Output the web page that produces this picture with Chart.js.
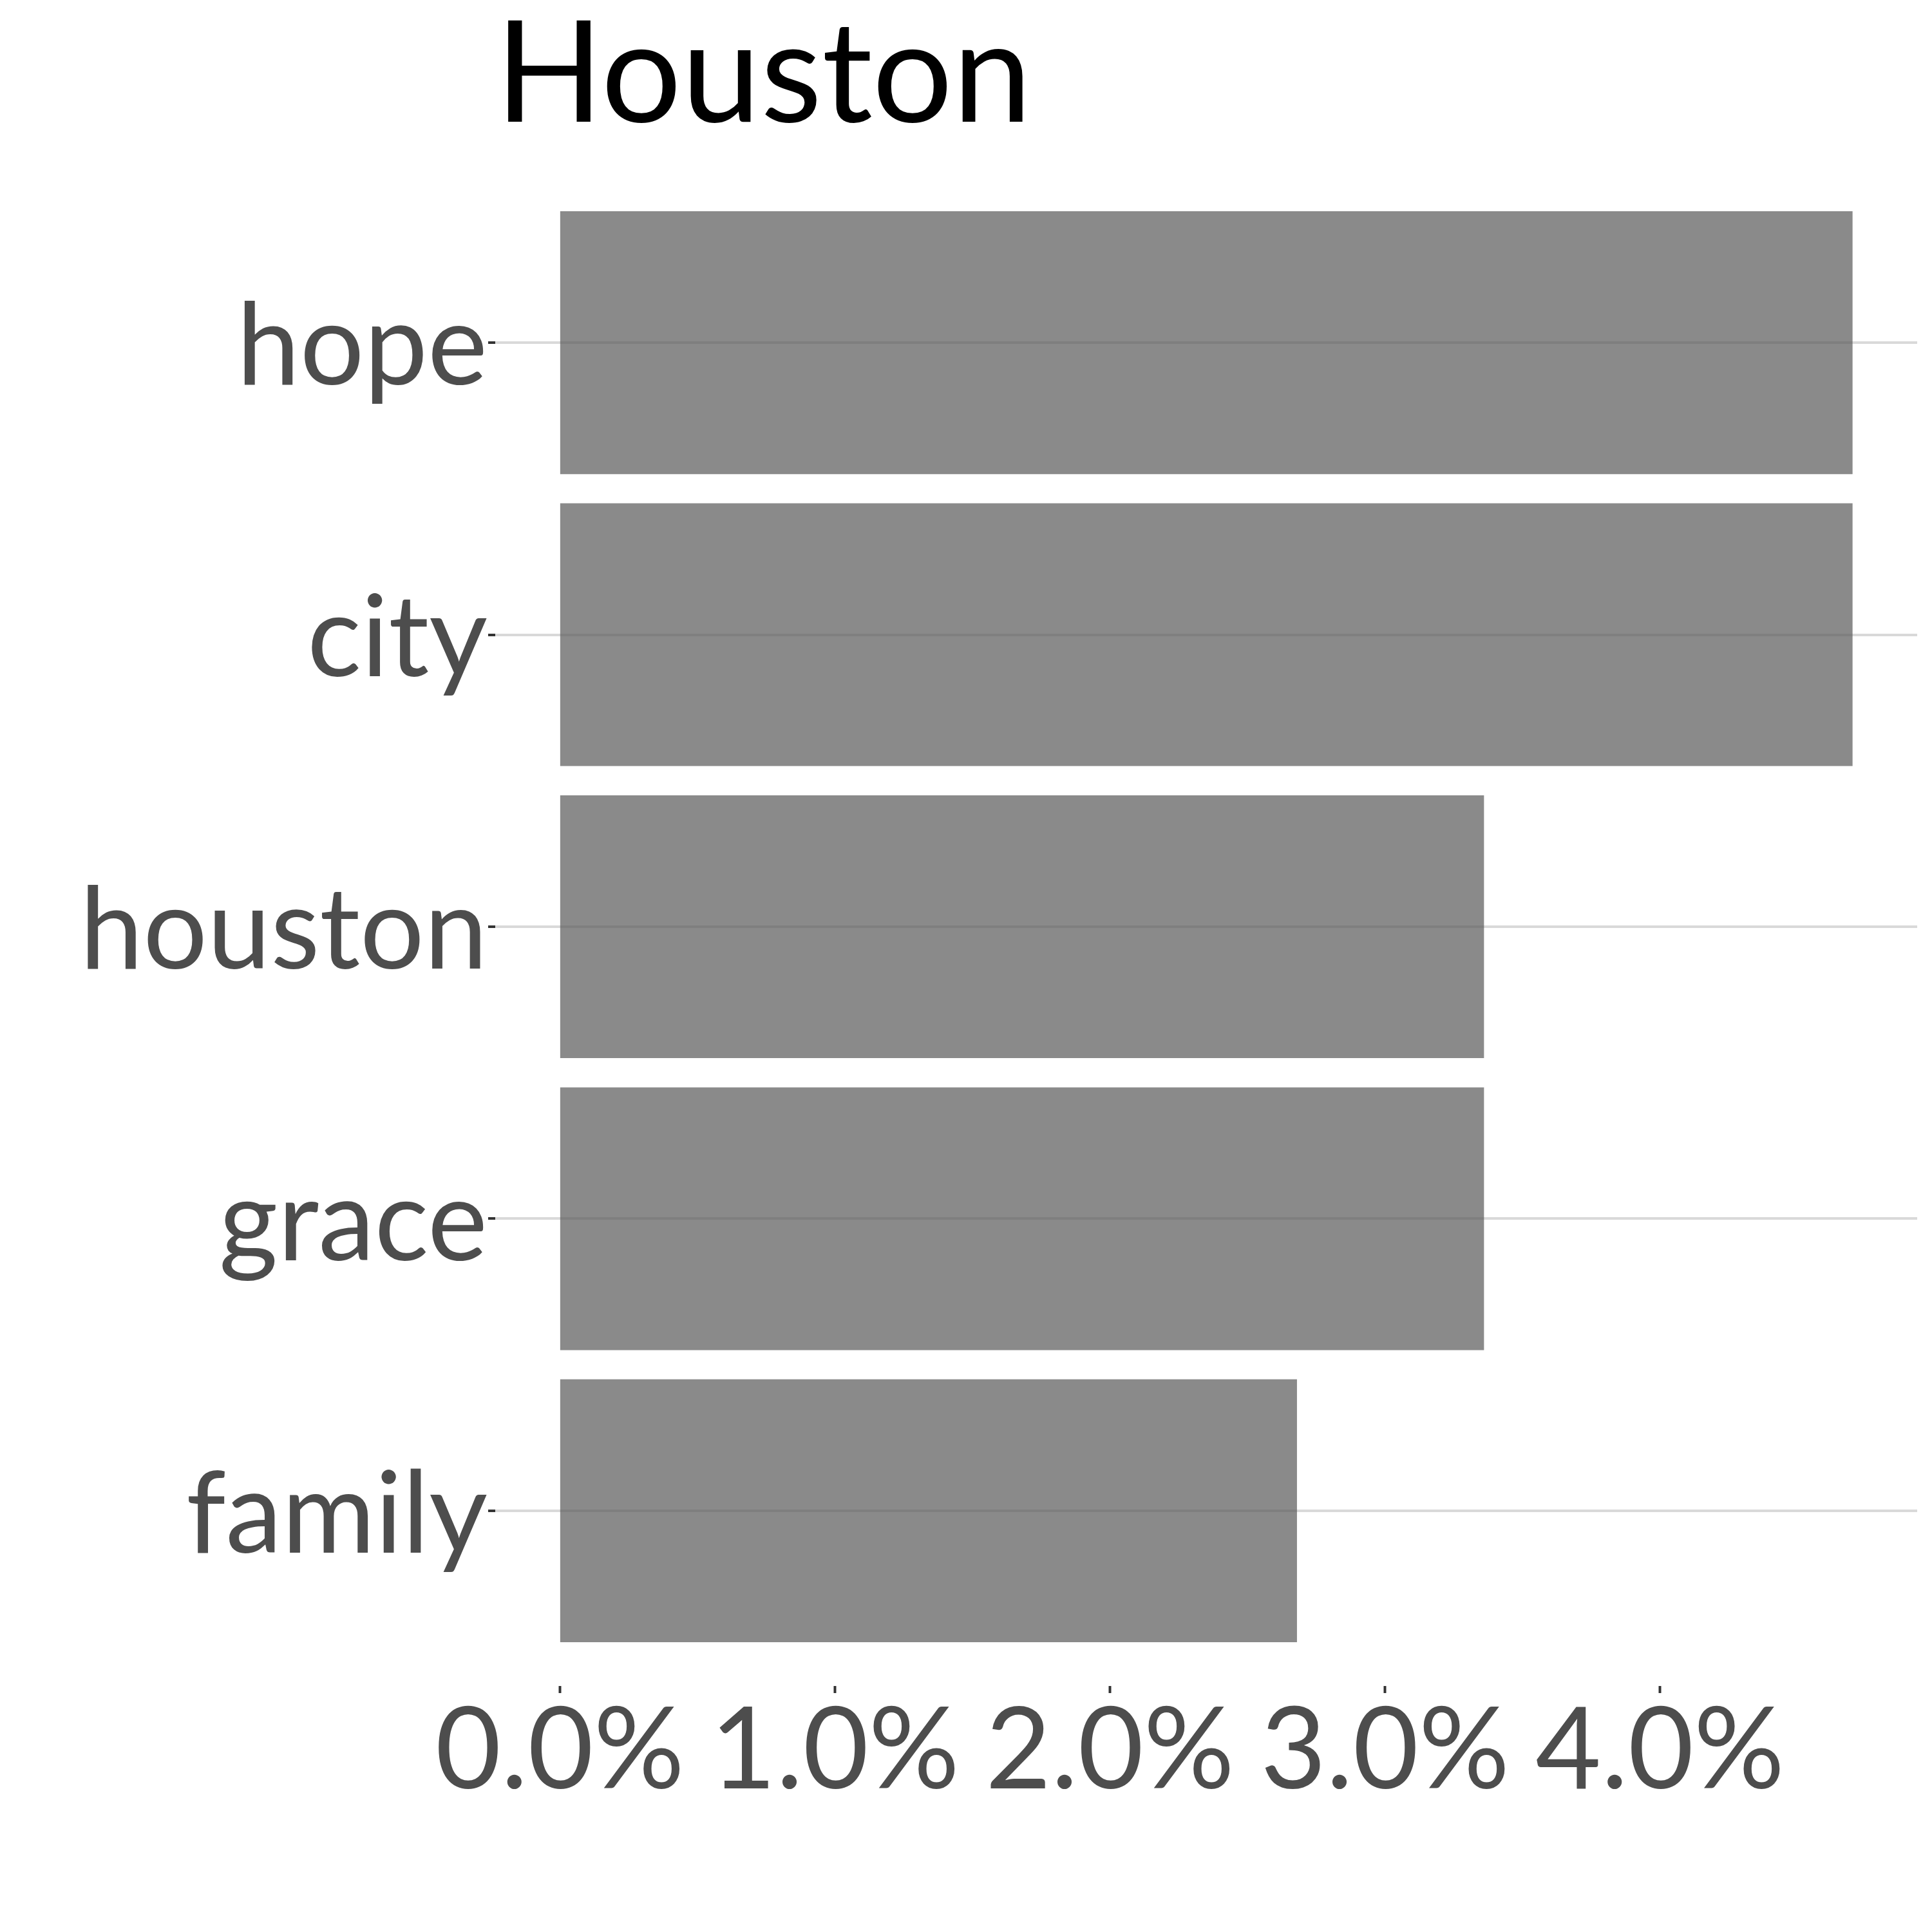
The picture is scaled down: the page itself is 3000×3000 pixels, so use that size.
<!DOCTYPE html>
<html>
<head>
<meta charset="utf-8">
<title>Houston</title>
<script src="https://cdn.jsdelivr.net/npm/chart.js@4/dist/chart.umd.min.js"></script>
<style>
  html, body { margin: 0; padding: 0; background: #fff; }
  canvas { display: block; }
</style>
</head>
<body>
<canvas id="chart" width="3000" height="3000"></canvas>
<script>
// words, top to bottom, and their share of all words (percent)
const words = ["hope", "city", "houston", "grace", "family"];
const shares = [4.70, 4.70, 3.36, 3.36, 2.68];
const xTicks = [0, 1, 2, 3, 4];

const FONT = "Lato";
const LABEL = "#4d4d4d";

// ggplot style padding: 5% of the range on the value axis, 0.6 on the words
const xMax = Math.max(...shares);
const xPad = xMax * 0.05;

const ctx = document.getElementById("chart");

new Chart(ctx, {
  type: "bar",
  data: {
    datasets: [{
      data: words.map((w, i) => ({ x: shares[i], y: i })),
      backgroundColor: "rgba(89, 89, 89, 0.7)",
      borderWidth: 0,
      categoryPercentage: 0.9,
      barPercentage: 1.0
    }]
  },
  options: {
    indexAxis: "y",
    responsive: false,
    animation: false,
    layout: { padding: { left: 0, right: 23, top: 0, bottom: 0 } },
    plugins: {
      legend: { display: false },
      tooltip: { enabled: false },
      title: {
        display: true,
        text: "Houston",
        align: "start",
        fullSize: false,
        color: "#000",
        font: { family: FONT, size: 220, weight: "normal", lineHeight: 1 },
        padding: { top: 8, bottom: 32 }
      }
    },
    scales: {
      x: {
        type: "linear",
        min: -xPad,
        max: xMax + xPad,
        afterBuildTicks: (scale) => {
          scale.ticks = xTicks.map(v => ({ value: v }));
        },
        afterFit: (scale) => { scale.height = 382; },
        ticks: {
          color: LABEL,
          font: { family: FONT, size: 176 },
          padding: -14,
          maxRotation: 0,
          autoSkip: false,
          callback: (v) => v.toFixed(1) + "%"
        },
        grid: {
          drawOnChartArea: false,
          tickLength: 11,
          tickWidth: 4,
          tickColor: "#333333"
        },
        border: { display: false }
      },
      y: {
        type: "linear",
        reverse: true,
        offset: false,
        min: -0.6,
        max: words.length - 1 + 0.6,
        afterBuildTicks: (scale) => {
          scale.ticks = words.map((w, i) => ({ value: i }));
        },
        afterFit: (scale) => { scale.width = 769; },
        ticks: {
          color: LABEL,
          font: { family: FONT, size: 176 },
          padding: 1,
          labelOffset: 8,
          autoSkip: false,
          callback: (v) => words[v] ?? ""
        },
        grid: {
          offset: false,
          color: "#d9d9d9",
          lineWidth: 4,
          tickLength: 11,
          tickWidth: 4,
          tickColor: "#333333"
        },
        border: { display: false }
      }
    }
  }
});
</script>
</body>
</html>
